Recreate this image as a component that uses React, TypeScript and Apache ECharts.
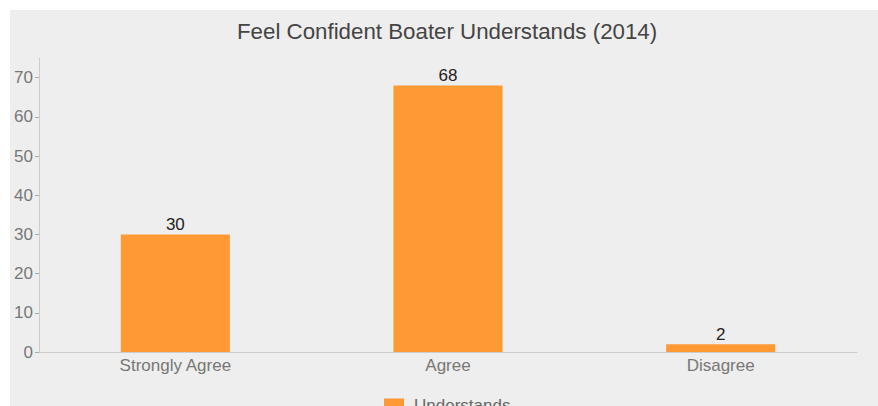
import React, { useEffect, useRef } from "react";
import * as echarts from "echarts";

const categories = ["Strongly Agree", "Agree", "Disagree"];
const understands = [30, 68, 2];
const yTicks = [0, 10, 20, 30, 40, 50, 60, 70];
const titleText = "Feel Confident Boater Understands (2014)";
const seriesName = "Understands";

export default function App() {
  const ref = useRef<HTMLDivElement>(null);
  useEffect(() => {
    if (!ref.current) return;
    const chart = echarts.init(ref.current, null, { renderer: "svg" });
    const font = "'Liberation Sans', Arial, Helvetica, sans-serif";
    chart.setOption({
      animation: false,
      backgroundColor: "#eeeeee",
      textStyle: { fontFamily: font },
      title: {
        text: titleText,
        left: 222,
        top: 5,
        textStyle: { fontSize: 22.3, fontWeight: "normal", color: "#444", fontFamily: font },
      },
      legend: {
        data: [seriesName],
        left: 369,
        top: 382,
        itemWidth: 20,
        itemHeight: 14,
        icon: "rect",
        textStyle: { fontSize: 17, color: "#666", padding: [0, 0, 0, 5], fontFamily: font },
      },
      grid: { left: 29, right: 21, top: 48, bottom: 78, containLabel: false },
      xAxis: {
        type: "category",
        data: categories,
        axisLine: { lineStyle: { color: "#cccccc", width: 1 } },
        axisTick: { alignWithLabel: true, length: 5, lineStyle: { color: "#aaaaaa" } },
        axisLabel: { fontSize: 17, color: "#777", margin: 5, fontFamily: font },
      },
      yAxis: {
        type: "value",
        min: 0,
        max: 75,
        interval: 5,
        splitLine: { show: false },
        axisLine: { show: true, lineStyle: { color: "#cccccc", width: 1 } },
        axisTick: { show: true, length: 4, customValues: yTicks, lineStyle: { color: "#aaaaaa" } },
        axisLabel: { fontSize: 17, color: "#777", margin: 6, customValues: yTicks, fontFamily: font },
      },
      series: [
        {
          name: seriesName,
          type: "bar",
          data: understands,
          barWidth: "40%",
          itemStyle: { color: "#ff9933" },
          label: {
            show: true,
            position: "top",
            distance: 1,
            fontSize: 17,
            color: "#222",
            fontFamily: font,
          },
        },
      ],
    });
    return () => chart.dispose();
  }, []);
  return (
    <div
      ref={ref}
      style={{ position: "fixed", left: 10, top: 10, width: 868, height: 420 }}
    />
  );
}
